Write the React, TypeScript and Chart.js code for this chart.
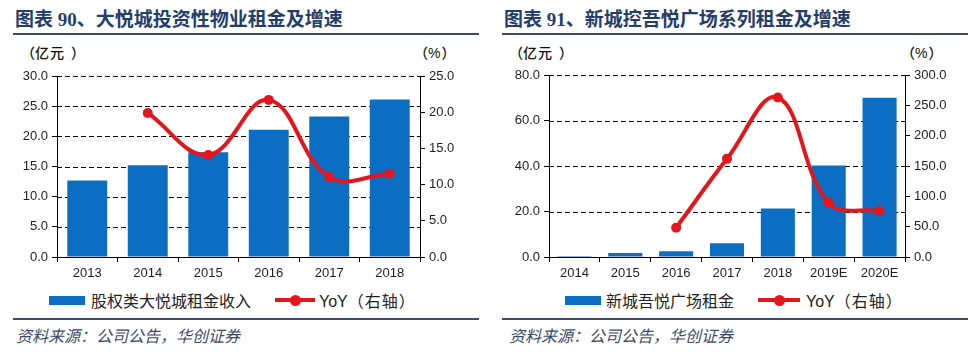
import React, { useEffect, useRef } from 'react';
import { Chart, registerables } from 'chart.js';

Chart.register(...registerables);

// ---- Data ----
const leftYears = ['2013', '2014', '2015', '2016', '2017', '2018'];
const leftRent = [12.7, 15.2, 17.35, 21.1, 23.3, 26.1];
const leftYoY = [null, 19.9, 14.1, 21.7, 11.05, 11.5];

const rightYears = ['2014', '2015', '2016', '2017', '2018', '2019E', '2020E'];
const rightRent = [0.4, 1.8, 2.5, 6.0, 21.3, 40.2, 70.0];
const rightYoY = [null, null, 48.4, 161.8, 263.0, 89.7, 76.0];

const leftTitle = '图表 90、大悦城投资性物业租金及增速';
const rightTitle = '图表 91、新城控吾悦广场系列租金及增速';
const leftBarLabel = '股权类大悦城租金收入';
const rightBarLabel = '新城吾悦广场租金';
const yoyLabel = 'YoY';
const yoyNote = '（右轴）';
const unitLeft = '亿元';
const unitRight = '%';
const sourceText = '资料来源：公司公告，华创证券';

// ---- Styles ----
const BLUE = '#0B6EC2';
const RED = '#E3161B';
const NAVY = '#243E6B';
const RULE = '#3E4C68';
const TICK = '#1e1e1e';
const NUM_FONT = '"Liberation Sans", Arial, sans-serif';
const CJK_FONT = '"Noto Sans CJK SC", sans-serif';
const TITLE_FONT = '"Liberation Serif", "Noto Sans CJK SC", serif';

const dashedGrid = {
  id: 'dashedGrid',
  beforeDatasetsDraw(chart: any) {
    const { ctx, chartArea, scales } = chart;
    const y = scales.y;
    ctx.save();
    ctx.strokeStyle = '#000';
    ctx.lineWidth = 1;
    ctx.setLineDash([5, 3]);
    y.ticks.forEach((t: any) => {
      if (t.value === 0) return;
      const py = Math.round(y.getPixelForValue(t.value)) + 0.5;
      ctx.beginPath();
      ctx.moveTo(chartArea.left, py);
      ctx.lineTo(chartArea.right, py);
      ctx.stroke();
    });
    ctx.restore();
  },
};

type ComboProps = {
  left: number;
  labels: string[];
  bars: number[];
  yoy: (number | null)[];
  leftMax: number;
  leftStep: number;
  rightMax: number;
  rightStep: number;
  leftWidth: number;
  rightWidth: number;
  barPct: number;
  topPad: number;
};

function ComboChart(p: ComboProps) {
  const ref = useRef<HTMLCanvasElement>(null);
  useEffect(() => {
    if (!ref.current) return;
    const tickFont = { family: NUM_FONT, size: 13 };
    const chart = new Chart(ref.current, {
      type: 'bar',
      data: {
        labels: p.labels,
        datasets: [
          {
            type: 'line',
            data: p.yoy,
            yAxisID: 'y1',
            borderColor: RED,
            backgroundColor: RED,
            borderWidth: 4,
            tension: 0.4,
            pointRadius: 5,
            pointBackgroundColor: RED,
            pointBorderWidth: 0,
            order: 0,
          } as any,
          {
            type: 'bar',
            data: p.bars,
            yAxisID: 'y',
            backgroundColor: BLUE,
            barPercentage: p.barPct,
            categoryPercentage: 1,
            order: 1,
          },
        ],
      },
      plugins: [dashedGrid],
      options: {
        animation: false,
        responsive: false,
        maintainAspectRatio: false,
        events: [],
        layout: { padding: { top: p.topPad, left: 0, right: 0, bottom: 0 } },
        plugins: { legend: { display: false }, tooltip: { enabled: false } },
        scales: {
          x: {
            offset: true,
            grid: {
              offset: true,
              drawOnChartArea: false,
              drawTicks: true,
              tickLength: 5,
              color: '#000',
              tickColor: '#000',
              lineWidth: 1,
            },
            border: { color: '#000', width: 1 },
            ticks: { color: TICK, font: tickFont, padding: 4, maxRotation: 0, autoSkip: false },
            afterFit: (s: any) => {
              s.height = 33;
            },
          },
          y: {
            position: 'left',
            min: 0,
            max: p.leftMax,
            grid: {
              drawOnChartArea: false,
              drawTicks: true,
              color: '#000',
              tickColor: '#000',
              lineWidth: 1,
              tickLength: 5,
            },
            border: { color: '#000', width: 1 },
            ticks: {
              stepSize: p.leftStep,
              color: TICK,
              font: tickFont,
              padding: 4,
              callback: (v: any) => Number(v).toFixed(1),
            },
            afterFit: (s: any) => {
              s.width = p.leftWidth;
            },
          },
          y1: {
            position: 'right',
            min: 0,
            max: p.rightMax,
            grid: {
              drawOnChartArea: false,
              drawTicks: true,
              tickLength: 5,
              color: '#000',
              tickColor: '#000',
            },
            border: { color: '#000', width: 1 },
            ticks: {
              stepSize: p.rightStep,
              color: TICK,
              font: tickFont,
              padding: 4,
              callback: (v: any) => Number(v).toFixed(1),
            },
            afterFit: (s: any) => {
              s.width = p.rightWidth;
            },
          },
        },
      } as any,
    });
    return () => chart.destroy();
  }, []);
  return (
    <canvas
      ref={ref}
      width={490}
      height={230}
      style={{ position: 'absolute', left: p.left, top: 60, width: 490, height: 230 }}
    />
  );
}

type PanelProps = {
  ox: number;
  title: string;
  barLabel: string;
  boxLeft: number;
  barLabelLeft: number;
  lineLeft: number;
  lineWidth: number;
  dotX: number;
  yoyLeft: number;
  pctLeft: number;
  unitLeftX: number;
  sourceLeft: number;
  titleLeft: number;
};

function Unit({ x, text }: { x: number; text: string }) {
  return (
    <div
      style={{
        position: 'absolute',
        whiteSpace: 'nowrap',
        left: x,
        top: 43,
        fontFamily: CJK_FONT,
        fontWeight: 500,
        fontSize: 14,
        lineHeight: '18px',
        color: '#111',
      }}
    >
      <span>（</span>
      <span style={{ fontFamily: text === '%' ? NUM_FONT : CJK_FONT, letterSpacing: '1px' }}>{text}</span>
      <span style={{ marginLeft: text === '%' ? 0 : 6 }}>）</span>
    </div>
  );
}

function PanelText(q: PanelProps) {
  const abs = (o: React.CSSProperties): React.CSSProperties => ({ position: 'absolute', whiteSpace: 'nowrap', ...o });
  return (
    <>
      <div
        style={abs({
          left: q.ox + q.titleLeft,
          top: 8,
          fontFamily: TITLE_FONT,
          fontWeight: 'bold',
          fontSize: 19,
          lineHeight: '24px',
          color: NAVY,
        })}
      >
        {q.title}
      </div>
      <div style={abs({ left: q.ox + 13, top: 33, width: 466, height: 2, background: RULE })} />
      <Unit x={q.ox + q.unitLeftX} text={unitLeft} />
      <Unit x={q.ox + q.pctLeft} text={unitRight} />
      <div style={abs({ left: q.ox + q.boxLeft, top: 296, width: 36, height: 9, background: BLUE })} />
      <div style={abs({ left: q.ox + q.barLabelLeft, top: 290, fontFamily: CJK_FONT, fontSize: 16, lineHeight: '20px', color: '#222' })}>
        {q.barLabel}
      </div>
      <div style={abs({ left: q.ox + q.lineLeft, top: 298, width: q.lineWidth, height: 4, background: RED })} />
      <div
        style={abs({
          left: q.ox + q.dotX - 5.5,
          top: 294.5,
          width: 11,
          height: 11,
          borderRadius: '50%',
          background: RED,
        })}
      />
      <div style={abs({ left: q.ox + q.yoyLeft, top: 290, fontSize: 16, lineHeight: '20px', color: '#222' })}>
        <span style={{ fontFamily: NUM_FONT }}>{yoyLabel}</span>
        <span style={{ fontFamily: CJK_FONT, letterSpacing: '1px' }}>{yoyNote}</span>
      </div>
      <div style={abs({ left: q.ox + 13, top: 318, width: 466, height: 2, background: RULE })} />
      <div
        style={abs({
          left: q.ox + q.sourceLeft,
          top: 325,
          fontFamily: CJK_FONT,
          fontStyle: 'italic',
          fontSize: 16,
          lineHeight: '20px',
          color: '#3A4A6C',
        })}
      >
        {sourceText}
      </div>
    </>
  );
}

export default function App() {
  return (
    <div style={{ position: 'absolute', left: 0, top: 0, width: 979, height: 352, background: '#fff', overflow: 'hidden' }}>
      <PanelText
        ox={0}
        title={leftTitle}
        barLabel={leftBarLabel}
        boxLeft={49}
        barLabelLeft={91}
        lineLeft={275}
        lineWidth={40}
        dotX={295}
        yoyLeft={319}
        pctLeft={414}
        unitLeftX={21}
        sourceLeft={16}
        titleLeft={15}
      />
      <PanelText
        ox={489}
        title={rightTitle}
        barLabel={rightBarLabel}
        boxLeft={76}
        barLabelLeft={117}
        lineLeft={269}
        lineWidth={42}
        dotX={290}
        yoyLeft={317}
        pctLeft={412}
        unitLeftX={20}
        sourceLeft={20}
        titleLeft={15}
      />
      <ComboChart
        left={0}
        labels={leftYears}
        bars={leftRent}
        yoy={leftYoY}
        leftMax={30}
        leftStep={5}
        rightMax={25}
        rightStep={5}
        leftWidth={57}
        rightWidth={70}
        barPct={0.66}
        topPad={16}
      />
      <ComboChart
        left={489}
        labels={rightYears}
        bars={rightRent}
        yoy={rightYoY}
        leftMax={80}
        leftStep={20}
        rightMax={300}
        rightStep={50}
        leftWidth={60}
        rightWidth={74}
        barPct={0.67}
        topPad={15}
      />
    </div>
  );
}
